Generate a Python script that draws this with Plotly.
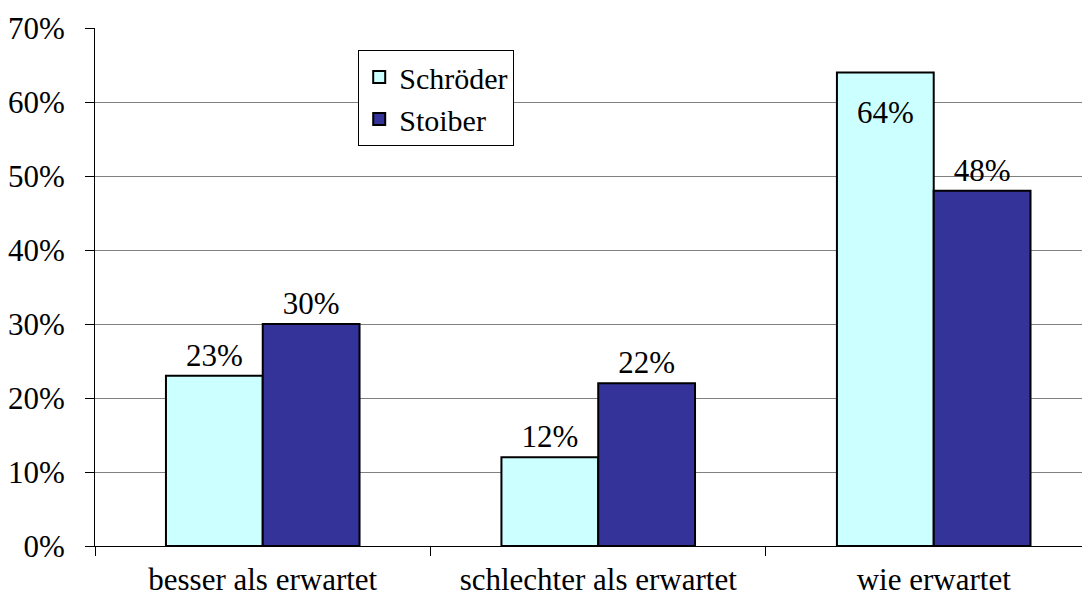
import plotly.graph_objects as go

categories = ["besser als erwartet", "schlechter als erwartet", "wie erwartet"]
schroeder = [23, 12, 64]
stoiber = [30, 22, 48]
schroeder_pos = ["outside", "outside", "inside"]
stoiber_pos = ["outside", "outside", "outside"]
y_ticks = [0, 10, 20, 30, 40, 50, 60, 70]
y_labels = [f"{v}%" for v in y_ticks]

font_family = "Liberation Serif, Times New Roman, serif"
FS = 31


def label(v, pos):
    t = f"{v}%"
    if pos == "inside":
        t = "<span style='font-size:8px'> </span><br>" + t
    return t


fig = go.Figure()
fig.add_trace(go.Bar(
    name="Schröder", x=categories, y=schroeder,
    marker=dict(color="#CCFFFF", line=dict(color="black", width=2)),
    text=[label(v, p) for v, p in zip(schroeder, schroeder_pos)],
    textposition=schroeder_pos,
    insidetextanchor="end", cliponaxis=False,
    textfont=dict(family=font_family, size=FS, color="black"),
))
fig.add_trace(go.Bar(
    name="Stoiber", x=categories, y=stoiber,
    marker=dict(color="#333399", line=dict(color="black", width=2)),
    text=[label(v, p) for v, p in zip(stoiber, stoiber_pos)],
    textposition=stoiber_pos,
    cliponaxis=False,
    textfont=dict(family=font_family, size=FS, color="black"),
))

fig.update_layout(
    width=1082, height=598,
    margin=dict(l=83, r=0, t=20, b=60),
    paper_bgcolor="white", plot_bgcolor="white",
    barmode="group", bargap=0.423, bargroupgap=0,
    font=dict(family=font_family, size=FS, color="black"),
    uniformtext=dict(minsize=FS, mode="show"),
    legend=dict(
        x=(356 - 92) / 998, y=1 - (50 - 28) / 518,
        xanchor="left", yanchor="top",
        bgcolor="white", bordercolor="black", borderwidth=1,
        font=dict(family=font_family, size=30, color="black"),
        itemwidth=30, tracegroupgap=0,
    ),
    showlegend=True,
)
fig.update_xaxes(
    range=[-0.5, 2.5 - 11.5 / 336.5],
    tickson="boundaries", ticks="outside", ticklen=9, tickcolor="black",
    showline=True, linecolor="black", linewidth=1,
    ticklabelstandoff=6,
    tickfont=dict(family=font_family, size=FS, color="black"),
)
fig.update_yaxes(
    range=[0, 70], tickvals=y_ticks, ticktext=y_labels,
    ticks="outside", ticklen=9, tickcolor="black",
    showline=True, linecolor="black", linewidth=1,
    showgrid=True, gridcolor="#808080", gridwidth=1,
    ticklabelstandoff=14, zeroline=False,
    tickfont=dict(family=font_family, size=FS, color="black"),
)

fig.write_html("out.html")
